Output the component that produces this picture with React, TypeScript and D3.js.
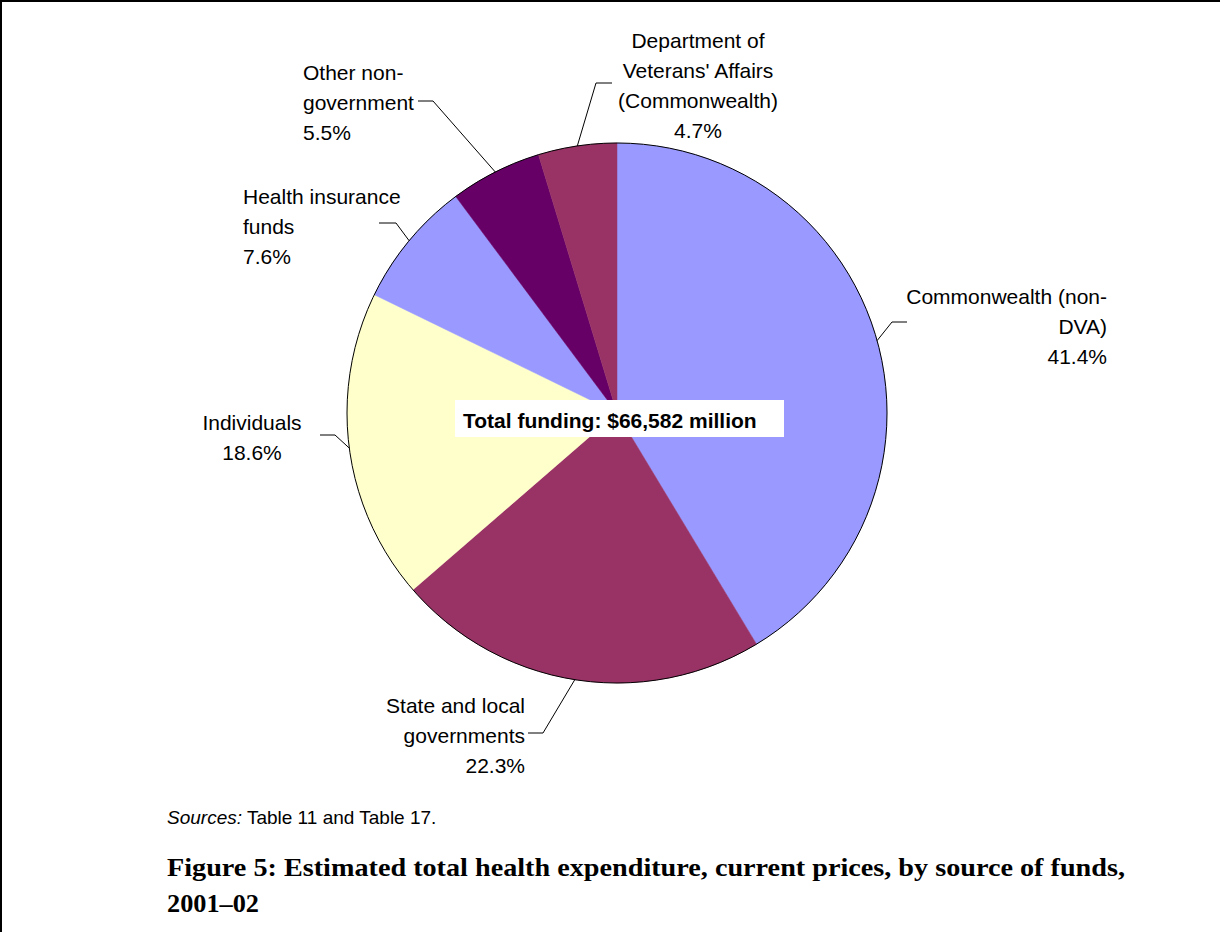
import React from "react";
import * as d3 from "d3";

const categories = [
  "Commonwealth (non-DVA)",
  "State and local governments",
  "Individuals",
  "Health insurance funds",
  "Other non-government",
  "Department of Veterans' Affairs (Commonwealth)",
];
const shares = [41.4, 22.3, 18.6, 7.6, 5.5, 4.7];
const pctLabels = ["41.4%", "22.3%", "18.6%", "7.6%", "5.5%", "4.7%"];
const labelLines = [
  ["Commonwealth (non-", "DVA)"],
  ["State and local", "governments"],
  ["Individuals"],
  ["Health insurance", "funds"],
  ["Other non-", "government"],
  ["Department of", "Veterans' Affairs", "(Commonwealth)"],
];
const colors = ["#9999FF", "#993366", "#FFFFCC", "#9999FF", "#660066", "#993366"];
const totalText = "Total funding: $66,582 million";
const sourceText = "Table 11 and Table 17.";
const titleLines = [
  "Figure 5: Estimated total health expenditure, current prices, by source of funds,",
  "2001\u201302",
];

// layout
const W = 1225;
const H = 932;
const cx = 617;
const cy = 413;
const R = 270;
const labelFont = 21;
const lineGap = 30;
const titleWidths = [958, 92];
const labelLayout = [
  { x: 1107, y: 304, anchor: "end", elbow: [892, 322], end: [907, 322] },
  { x: 525, y: 713, anchor: "end", elbow: [543, 733], end: [528, 733] },
  { x: 252, y: 430, anchor: "middle", elbow: [335, 435], end: [320, 435] },
  { x: 243, y: 204, anchor: "start", elbow: [396, 223], end: [379, 223] },
  { x: 303, y: 80, anchor: "start", elbow: [433, 101], end: [418, 101] },
  { x: 698, y: 48, anchor: "middle", elbow: [596, 83], end: [612, 83] },
];

export default function App() {
  const pie = d3
    .pie<number>()
    .sort(null)
    .startAngle(0)
    .endAngle(2 * Math.PI)
    .value((d) => d);
  const arcs = pie(shares);
  const arc = d3.arc<d3.PieArcDatum<number>>().innerRadius(0).outerRadius(R);
  const line = d3.line();

  return (
    <svg
      width={W}
      height={H}
      style={{ position: "absolute", left: 0, top: 0, background: "#fff" }}
      fontFamily="'Liberation Sans', Arial, sans-serif"
    >
      <rect x={0} y={0} width={W} height={H} fill="#fff" />
      <line x1={1} y1={0} x2={1} y2={H} stroke="#000" strokeWidth={2} />
      <line x1={0} y1={1} x2={1220} y2={1} stroke="#000" strokeWidth={2} />
      <g transform={`translate(${cx},${cy})`}>
        {arcs.map((a, i) => (
          <path key={categories[i]} d={arc(a) || ""} fill={colors[i]} stroke={colors[i]} strokeWidth={0.5} />
        ))}
        <circle r={R} fill="none" stroke="#000" strokeWidth={1} />
      </g>
      {arcs.map((a, i) => {
        const mid = (a.startAngle + a.endAngle) / 2;
        const p: [number, number] = [cx + R * Math.sin(mid), cy - R * Math.cos(mid)];
        const L = labelLayout[i];
        return (
          <path
            key={"ll" + i}
            d={line([p, L.elbow as [number, number], L.end as [number, number]]) || ""}
            fill="none"
            stroke="#000"
            strokeWidth={1}
          />
        );
      })}
      {labelLines.map((lines, i) => {
        const L = labelLayout[i];
        const all = [...lines, pctLabels[i]];
        return (
          <text key={"lb" + i} fontSize={labelFont} textAnchor={L.anchor as any} fill="#000">
            {all.map((t, j) => (
              <tspan key={j} x={L.x} y={L.y + j * lineGap}>
                {t}
              </tspan>
            ))}
          </text>
        );
      })}
      <rect x={455} y={400} width={329} height={37} fill="#fff" />
      <text x={463} y={428} fontSize={21} fontWeight="bold" fill="#000">
        {totalText}
      </text>
      <text x={167} y={824} fontSize={19} fill="#000">
        <tspan fontStyle="italic">Sources:</tspan> {sourceText}
      </text>
      {titleLines.map((t, i) => (
        <text
          key={"t" + i}
          x={167}
          y={876 + i * 36}
          fontSize={25}
          fontWeight="bold"
          fontFamily="'Liberation Serif', 'Times New Roman', serif"
          textLength={titleWidths[i]}
          lengthAdjust="spacingAndGlyphs"
          fill="#000"
        >
          {t}
        </text>
      ))}
    </svg>
  );
}
